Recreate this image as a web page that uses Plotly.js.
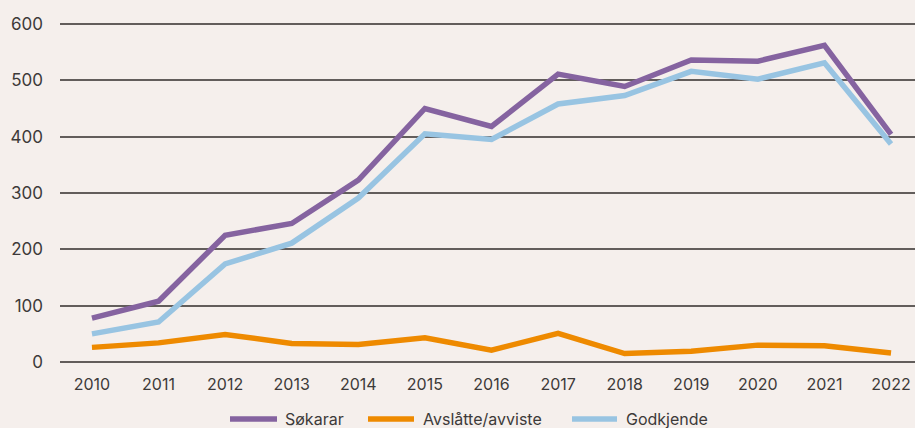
<!DOCTYPE html>
<html><head><meta charset="utf-8">
<script src="https://cdn.plot.ly/plotly-3.0.1.min.js"></script>
<style>html,body{margin:0;padding:0;background:#f5efec;}#chart{width:915px;height:428px;}</style>
</head><body><div id="chart"></div>
<script>
const years = [2010,2011,2012,2013,2014,2015,2016,2017,2018,2019,2020,2021,2022];
const sokarar = [78,108,225,246,323,450,418,511,489,536,534,562,404];
const avslatte = [26,34,49,33,31,43,21,51,15,19,30,29,16];
const godkjende = [50,71,174,211,291,405,395,458,473,516,502,531,387];
const seriesNames = ['Søkarar','Avslåtte/avviste','Godkjende'];
const seriesColors = ['#8563a0','#ee8a00','#98c4e2'];
const yTicks = [0,100,200,300,400,500,600];

const W = 915, H = 428, ML = 60, MR = 0, MT = 22, MB = 64;
const PW = W - ML - MR, PH = H - MT - MB;
const fx = px => (px - ML) / PW;          // pixel -> paper x
const fy = py => (H - MB - py) / PH;      // pixel -> paper y

const mk = (y, i) => ({x: years, y: y, name: seriesNames[i], type: 'scatter', mode: 'lines',
  line: {color: seriesColors[i], width: 5.5}, showlegend: false});
const data = [mk(sokarar, 0), mk(avslatte, 1), mk(godkjende, 2)];

// legend drawn as shapes + annotations
const legendLines = [[230, 277], [368, 414], [572, 617]];
const legendTextX = [283, 421, 624];
const legY = 419;
const shapes = legendLines.map((p, i) => ({type: 'line', xref: 'paper', yref: 'paper',
  x0: fx(p[0]), x1: fx(p[1]), y0: fy(legY), y1: fy(legY),
  line: {color: seriesColors[i], width: 5.5}}));
const annotations = seriesNames.map((n, i) => ({text: n, xref: 'paper', yref: 'paper',
  x: fx(legendTextX[i]), y: fy(legY), xanchor: 'left', yanchor: 'middle', showarrow: false,
  font: {size: 16, color: '#3d3a39'}}));

const layout = {
  width: W, height: H,
  paper_bgcolor: '#f5efec', plot_bgcolor: '#f5efec',
  margin: {l: ML, r: MR, t: MT, b: MB, autoexpand: false},
  font: {family: 'Inter, "Liberation Sans", sans-serif', size: 16, color: '#3d3a39'},
  showlegend: false,
  shapes: shapes, annotations: annotations,
  xaxis: {range: [2009.52, 2022.36], tickmode: 'array', tickvals: years, ticktext: years.map(String),
    showgrid: false, zeroline: false, showline: false, ticks: '', ticklabelstandoff: 9},
  yaxis: {range: [-3.5, 603.5], tickmode: 'array', tickvals: yTicks, ticktext: yTicks.map(String),
    showgrid: true, gridcolor: '#625d5b', gridwidth: 2, zeroline: false, showline: false,
    ticks: '', ticklabelstandoff: 16, tickfont: {size: 17}}
};
Plotly.newPlot('chart', data, layout, {displayModeBar: false, staticPlot: true});
</script></body></html>
